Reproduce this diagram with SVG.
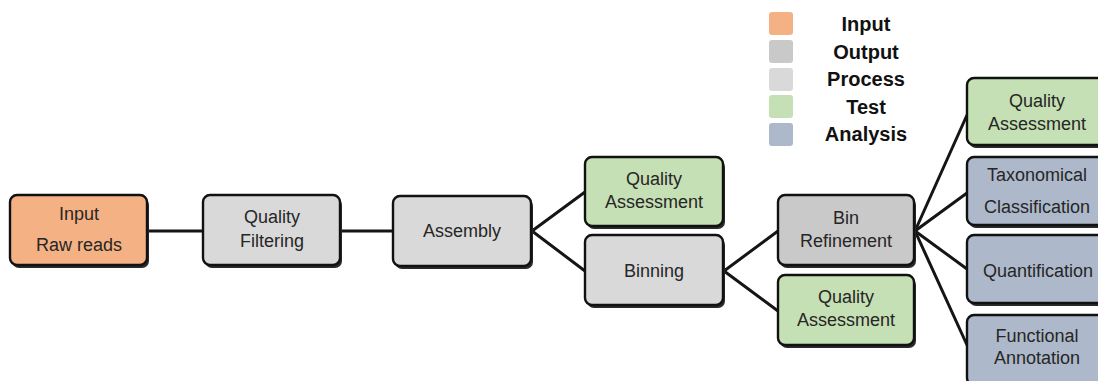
<svg xmlns="http://www.w3.org/2000/svg" width="1098" height="381" viewBox="0 0 1098 381">
  <style>
    .box { stroke: #111; stroke-width: 2.4; }
    .shadow { fill: #2b2b2b; }
    .input { fill: #F4B183; }
    .output { fill: #C9C9C9; }
    .process { fill: #D9D9D9; }
    .test { fill: #C5E0B4; }
    .analysis { fill: #ADB9CA; }
    .label { font-family: "Liberation Sans", Arial, sans-serif; font-size: 18px; fill: #262626; text-anchor: middle; }
    .legend { font-family: "Liberation Sans", Arial, sans-serif; font-size: 20px; font-weight: bold; fill: #111; text-anchor: middle; }
    .conn { stroke: #151515; stroke-width: 3; fill: none; stroke-linecap: round; }
  </style>

  <!-- legend -->
  <g id="legend">
    <rect x="769" y="12" width="24" height="23" rx="3" class="input"/>
    <rect x="769" y="40" width="24" height="23" rx="3" class="output"/>
    <rect x="769" y="68" width="24" height="23" rx="3" class="process"/>
    <rect x="769" y="95" width="24" height="23" rx="3" class="test"/>
    <rect x="769" y="123" width="24" height="23" rx="3" class="analysis"/>
    <text x="866" y="31" class="legend">Input</text>
    <text x="866" y="59" class="legend">Output</text>
    <text x="866" y="86" class="legend">Process</text>
    <text x="866" y="114" class="legend">Test</text>
    <text x="866" y="141" class="legend">Analysis</text>
  </g>

  <!-- connectors -->
  <g id="connectors">
    <line x1="148" y1="231" x2="203" y2="231" class="conn"/>
    <line x1="341" y1="231" x2="393" y2="231" class="conn"/>
    <line x1="532" y1="231" x2="585" y2="192" class="conn"/>
    <line x1="532" y1="231" x2="585" y2="271" class="conn"/>
    <line x1="724" y1="271" x2="778" y2="231" class="conn"/>
    <line x1="724" y1="271" x2="778" y2="311" class="conn"/>
    <line x1="915" y1="231" x2="967" y2="115" class="conn"/>
    <line x1="915" y1="231" x2="967" y2="193" class="conn"/>
    <line x1="915" y1="231" x2="967" y2="269" class="conn"/>
    <line x1="915" y1="231" x2="967" y2="345" class="conn"/>
  </g>

  <g id="input-raw-reads">
    <rect x="12" y="198" width="137" height="70" rx="7" class="shadow"/>
    <rect x="10" y="195" width="137" height="70" rx="7" class="box input"/>
    <text x="79" y="220" class="label">Input</text>
    <text x="79" y="251" class="label">Raw reads</text>
  </g>

  <g id="quality-filtering">
    <rect x="205" y="198" width="137" height="70" rx="7" class="shadow"/>
    <rect x="203" y="195" width="137" height="70" rx="7" class="box process"/>
    <text x="272" y="223" class="label">Quality</text>
    <text x="272" y="247" class="label">Filtering</text>
  </g>

  <g id="assembly">
    <rect x="395" y="199" width="138" height="70" rx="7" class="shadow"/>
    <rect x="393" y="196" width="138" height="70" rx="7" class="box process"/>
    <text x="462" y="237" class="label">Assembly</text>
  </g>

  <g id="quality-assessment-1">
    <rect x="587" y="160" width="138" height="69" rx="7" class="shadow"/>
    <rect x="585" y="157" width="138" height="69" rx="7" class="box test"/>
    <text x="654" y="185" class="label">Quality</text>
    <text x="654" y="208" class="label">Assessment</text>
  </g>

  <g id="binning">
    <rect x="587" y="238" width="138" height="70" rx="7" class="shadow"/>
    <rect x="585" y="235" width="138" height="70" rx="7" class="box process"/>
    <text x="654" y="277" class="label">Binning</text>
  </g>

  <g id="bin-refinement">
    <rect x="780" y="198" width="136" height="70" rx="7" class="shadow"/>
    <rect x="778" y="195" width="136" height="70" rx="7" class="box output"/>
    <text x="846" y="224" class="label">Bin</text>
    <text x="846" y="247" class="label">Refinement</text>
  </g>

  <g id="quality-assessment-2">
    <rect x="780" y="278" width="136" height="70" rx="7" class="shadow"/>
    <rect x="778" y="275" width="136" height="70" rx="7" class="box test"/>
    <text x="846" y="303" class="label">Quality</text>
    <text x="846" y="326" class="label">Assessment</text>
  </g>

  <g id="quality-assessment-3">
    <rect x="969" y="81" width="140" height="67" rx="7" class="shadow"/>
    <rect x="967" y="78" width="140" height="67" rx="7" class="box test"/>
    <text x="1037" y="107" class="label">Quality</text>
    <text x="1037" y="130" class="label">Assessment</text>
  </g>

  <g id="taxonomical-classification">
    <rect x="969" y="160" width="140" height="68" rx="7" class="shadow"/>
    <rect x="967" y="157" width="140" height="68" rx="7" class="box analysis"/>
    <text x="1037" y="181" class="label">Taxonomical</text>
    <text x="1037" y="213" class="label">Classification</text>
  </g>

  <g id="quantification">
    <rect x="969" y="238" width="140" height="68" rx="7" class="shadow"/>
    <rect x="967" y="235" width="140" height="68" rx="7" class="box analysis"/>
    <text x="1038" y="277" class="label">Quantification</text>
  </g>

  <g id="functional-annotation">
    <rect x="969" y="318" width="140" height="70" rx="7" class="shadow"/>
    <rect x="967" y="315" width="140" height="70" rx="7" class="box analysis"/>
    <text x="1037" y="342" class="label">Functional</text>
    <text x="1037" y="364" class="label">Annotation</text>
  </g>
</svg>
